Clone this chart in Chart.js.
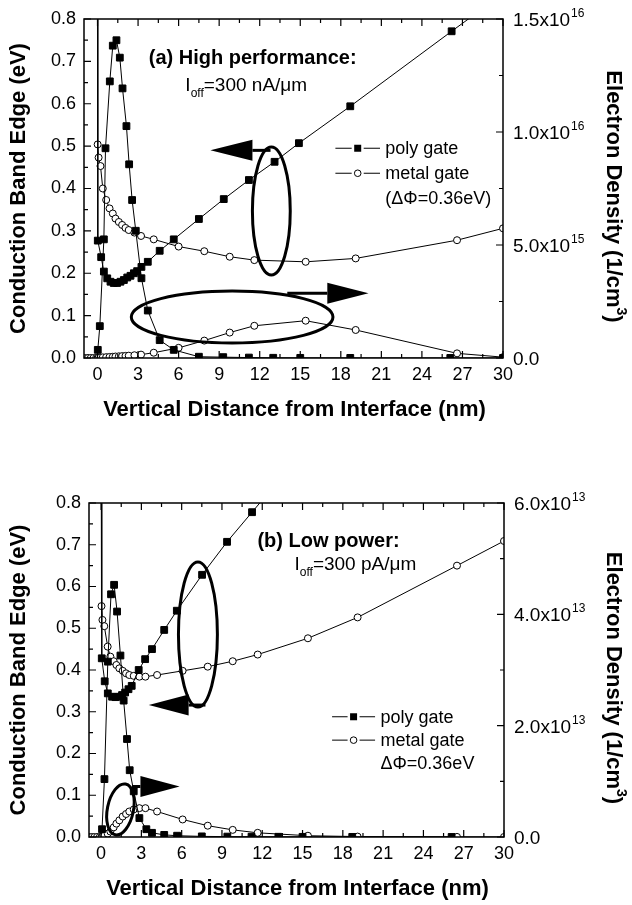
<!DOCTYPE html>
<html>
<head>
<meta charset="utf-8">
<script src="https://cdn.jsdelivr.net/npm/chart.js@4.4.1/dist/chart.umd.min.js"></script>
<style>
  html, body { margin: 0; padding: 0; background: #fff; }
  canvas { display: block; position: absolute; left: 0; }
  #chartA { top: 0; }
  #chartB { top: 452px; }
</style>
</head>
<body>
<canvas id="chartA" width="632" height="452"></canvas>
<canvas id="chartB" width="632" height="453"></canvas>
<script>
var FONT = '"Liberation Sans", Arial, sans-serif';

// tick values
var xTickVals = [0, 3, 6, 9, 12, 15, 18, 21, 24, 27, 30];
var cbTickVals = [0, 0.1, 0.2, 0.3, 0.4, 0.5, 0.6, 0.7, 0.8];
var densTicksA = [0, 5e15, 1e16, 1.5e16];
var densTicksB = [0, 2e13, 4e13, 6e13];

// (a) high performance - poly gate
var aPolyCbX = [0, 0.02, 0.27, 0.47, 0.72, 0.96, 1.2, 1.45, 1.7, 1.95, 2.2, 2.44, 2.69, 2.93, 3.25, 3.72, 4.6, 5.64, 7.5, 9.34, 11.2, 13.1, 14.9, 18.7, 26.2, 30];
var aPolyCb = [3.0, 0.277, 0.238, 0.204, 0.188, 0.180, 0.177, 0.177, 0.180, 0.184, 0.190, 0.194, 0.200, 0.205, 0.215, 0.227, 0.253, 0.280, 0.328, 0.375, 0.420, 0.463, 0.507, 0.594, 0.771, 0.860];
var aPolyDensX = [0.02, 0.17, 0.47, 0.59, 0.91, 1.13, 1.40, 1.65, 1.85, 2.14, 2.34, 2.56, 2.83, 3.25, 3.72, 4.6, 5.64, 7.5, 9.3, 11.2, 13.0, 15.0, 18.7, 26.1, 30];
var aPolyDens = [3.6e14, 1.41e15, 5.25e15, 9.28e15, 1.224e16, 1.382e16, 1.406e16, 1.329e16, 1.193e16, 1.026e16, 8.57e15, 6.99e15, 5.63e15, 3.53e15, 2.10e15, 7.9e14, 3.6e14, 5.6e13, 3.8e13, 1.9e13, 9e12, 6e12, 4e12, 2e12, 0];
// (a) metal gate
var aMetalX = [-0.9, -0.7, -0.5, -0.3, -0.1, 0.01, 0.08, 0.22, 0.39, 0.64, 0.89, 1.13, 1.33, 1.58, 1.82, 2.07, 2.31, 2.73, 3.22, 4.16, 6.0, 7.9, 9.78, 11.6, 15.4, 19.1, 26.6, 30];
var aMetalCb = [3.1, 3.1, 3.1, 3.1, 3.1, 0.504, 0.473, 0.453, 0.400, 0.373, 0.353, 0.341, 0.329, 0.321, 0.314, 0.307, 0.302, 0.296, 0.288, 0.280, 0.263, 0.252, 0.239, 0.231, 0.227, 0.235, 0.278, 0.306];
var aMetalDens = [0, 0, 0, 0, 0, 9e12, 1.9e13, 2.3e13, 2.8e13, 3.8e13, 4.7e13, 5.6e13, 6.6e13, 7.5e13, 8.4e13, 9.4e13, 1.03e14, 1.22e14, 1.5e14, 2.34e14, 4.5e14, 7.7e14, 1.125e15, 1.425e15, 1.65e15, 1.24e15, 2.06e14, 3.8e13];

// (b) low power - poly gate
var bPolyCbX = [0, 0.05, 0.27, 0.5, 0.82, 1.07, 1.32, 1.56, 1.79, 2.04, 2.28, 2.8, 3.28, 3.79, 4.7, 5.64, 7.52, 9.38, 11.24, 13.1];
var bPolyCb = [3.0, 0.428, 0.373, 0.344, 0.336, 0.335, 0.336, 0.340, 0.346, 0.354, 0.362, 0.400, 0.426, 0.450, 0.496, 0.542, 0.628, 0.707, 0.778, 0.849];
var bPolyDensX = [0.07, 0.25, 0.5, 0.74, 0.97, 1.19, 1.44, 1.68, 1.93, 2.13, 2.43, 2.85, 3.37, 3.79, 4.7, 5.66, 7.5, 9.4, 11.2, 13.2, 15.0, 18.7, 26.1];
var bPolyDens = [1.4e12, 1.04e13, 3.15e13, 4.36e13, 4.53e13, 4.05e13, 3.26e13, 2.45e13, 1.76e13, 1.2e13, 8.2e12, 3.4e12, 1.4e12, 7.5e11, 3.8e11, 2.3e11, 1.1e11, 7e10, 5e10, 4e10, 3e10, 2e10, 1e10];
// (b) metal gate
var bMetalX = [-0.9, -0.7, -0.5, -0.3, -0.1, 0.03, 0.1, 0.24, 0.49, 0.69, 0.94, 1.14, 1.36, 1.61, 1.86, 2.1, 2.43, 2.85, 3.3, 4.17, 6.07, 7.94, 9.8, 11.66, 15.4, 19.1, 26.5, 30];
var bMetalCb = [3.1, 3.1, 3.1, 3.1, 3.1, 0.553, 0.520, 0.505, 0.456, 0.432, 0.421, 0.412, 0.404, 0.398, 0.392, 0.388, 0.386, 0.384, 0.384, 0.388, 0.398, 0.408, 0.421, 0.437, 0.476, 0.526, 0.650, 0.709];
var bMetalDens = [0, 0, 0, 0, 0, 3.8e10, 7.5e10, 2.3e11, 6e11, 9.8e11, 1.73e12, 2.4e12, 3e12, 3.68e12, 4.13e12, 4.58e12, 4.95e12, 5.18e12, 5.18e12, 4.58e12, 3.15e12, 2.03e12, 1.28e12, 7.5e11, 2.3e11, 7.5e10, 1.5e10, 7.5e9];

// annotations, in data units of the x axis and the left axis
var annA = {
  densTicks: densTicksA,
  title: '(a) High performance:', titleAt: [3.79, 0.693],
  ioff: '=300 nA/\u03bcm', ioffAt: [6.5, 0.63],
  legendX: [17.6, 20.9, 21.29],
  legend: [{ y: 0.495, text: 'poly gate', marker: 'rect' },
           { y: 0.436, text: 'metal gate', marker: 'circle' },
           { y: 0.377, text: '(\u0394\u03a6=0.36eV)' }],
  ellipses: [{ x: 12.86, y: 0.347, rx: 1.4, ry: 0.151, rot: 0 },
             { x: 9.96, y: 0.0967, rx: 7.46, ry: 0.0613, rot: 0 }],
  arrows: [{ tip: 8.35, base: 11.46, end: 12.8, y: 0.49 },
           { tip: 20.05, base: 17.0, end: 14.04, y: 0.1526 }]
};
var annB = {
  densTicks: densTicksB,
  title: '(b) Low power:', titleAt: [11.64, 0.6946],
  ioff: '=300 pA/\u03bcm', ioffAt: [14.4, 0.6395],
  legendX: [17.2, 20.4, 20.8],
  legend: [{ y: 0.288, text: 'poly gate', marker: 'rect' },
           { y: 0.232, text: 'metal gate', marker: 'circle' },
           { y: 0.1765, text: '\u0394\u03a6=0.36eV' }],
  ellipses: [{ x: 7.21, y: 0.485, rx: 1.45, ry: 0.1737, rot: 0 },
             { x: 1.44, y: 0.066, rx: 0.97, ry: 0.062, rot: 0.2 }],
  arrows: [{ tip: 3.55, base: 6.52, end: 7.77, y: 0.316 },
           { tip: 5.85, base: 2.93, end: 2.3, y: 0.121 }]
};

function pts(xs, ys) {
  return xs.map(function (x, i) { return { x: x, y: ys[i] }; });
}

function series(label, xs, ys, axis, filled) {
  return {
    label: label,
    data: pts(xs, ys),
    yAxisID: axis,
    showLine: true,
    borderColor: '#000',
    borderWidth: 1,
    tension: 0,
    pointStyle: filled ? 'rect' : 'circle',
    pointRadius: filled ? 4.8 : 3.5,
    pointBackgroundColor: filled ? '#000' : '#fff',
    pointBorderColor: '#000',
    pointBorderWidth: 1
  };
}

function minorSet(vals) {
  var out = [];
  vals.forEach(function (v, i) {
    out.push([v, 7]);
    if (i < vals.length - 1) out.push([(v + vals[i + 1]) / 2, 4]);
  });
  return out;
}

function rich(ctx, x, y, parts) {
  parts.forEach(function (p) {
    ctx.font = p.font;
    ctx.fillText(p.text, x, y + (p.dy || 0));
    x += ctx.measureText(p.text).width;
  });
}

function deco(ann) {
  return {
    id: 'deco',
    afterDraw: function (chart) {
      var ctx = chart.ctx, a = chart.chartArea;
      var sx = chart.scales.x, sy = chart.scales.y, sd = chart.scales.y2;
      function X(v) { return sx.getPixelForValue(v); }
      function Y(v) { return sy.getPixelForValue(v); }
      ctx.save();
      ctx.strokeStyle = '#000';
      ctx.fillStyle = '#000';

      // frame and inward ticks
      ctx.lineWidth = 1.5;
      ctx.strokeRect(a.left, a.top, a.right - a.left, a.bottom - a.top);
      ctx.lineWidth = 1.2;
      ctx.beginPath();
      minorSet(xTickVals).forEach(function (t) {
        var p = X(t[0]);
        ctx.moveTo(p, a.bottom); ctx.lineTo(p, a.bottom - t[1]);
        ctx.moveTo(p, a.top); ctx.lineTo(p, a.top + t[1]);
      });
      minorSet(cbTickVals).forEach(function (t) {
        var p = Y(t[0]);
        ctx.moveTo(a.left, p); ctx.lineTo(a.left + t[1], p);
      });
      minorSet(ann.densTicks).forEach(function (t) {
        var p = sd.getPixelForValue(t[0]);
        ctx.moveTo(a.right, p); ctx.lineTo(a.right - t[1], p);
      });
      ctx.stroke();

      // right axis labels with superscript exponents
      ctx.textAlign = 'left';
      ctx.textBaseline = 'alphabetic';
      ann.densTicks.forEach(function (v) {
        var p = sd.getPixelForValue(v), x = a.right + 10, txt = '0.0', sup = '';
        if (v > 0) {
          var e = Math.floor(Math.log10(v) + 1e-9);
          txt = (v / Math.pow(10, e)).toFixed(1) + 'x10';
          sup = String(e);
        }
        ctx.font = '19px ' + FONT;
        ctx.fillText(txt, x, p + 7);
        if (sup) {
          var w = ctx.measureText(txt).width;
          ctx.font = '12px ' + FONT;
          ctx.fillText(sup, x + w + 1, p - 2);
        }
      });

      // axis titles
      var midY = (a.top + a.bottom) / 2;
      ctx.font = 'bold 22px ' + FONT;
      ctx.textAlign = 'center';
      ctx.textBaseline = 'middle';
      ctx.fillText('Vertical Distance from Interface (nm)', (a.left + a.right) / 2 + 1, a.bottom + 52);
      ctx.save();
      ctx.translate(19, midY);
      ctx.rotate(-Math.PI / 2);
      ctx.fillText('Conduction Band Edge (eV)', 0, 0);
      ctx.restore();
      ctx.save();
      ctx.translate(613, midY + 8);
      ctx.rotate(Math.PI / 2);
      ctx.textAlign = 'left';
      var t1 = 'Electron Density (1/cm', t2 = ')';
      var w1 = ctx.measureText(t1).width, w2 = ctx.measureText(t2).width;
      ctx.font = 'bold 14px ' + FONT;
      var w3 = ctx.measureText('3').width;
      var x0 = -(w1 + w2 + w3) / 2;
      ctx.font = 'bold 22px ' + FONT;
      ctx.fillText(t1, x0, 0);
      ctx.fillText(t2, x0 + w1 + w3, 0);
      ctx.font = 'bold 14px ' + FONT;
      ctx.fillText('3', x0 + w1, -8);
      ctx.restore();

      // panel captions
      ctx.textAlign = 'left';
      ctx.textBaseline = 'alphabetic';
      ctx.font = 'bold 20px ' + FONT;
      ctx.fillText(ann.title, X(ann.titleAt[0]), Y(ann.titleAt[1]));
      rich(ctx, X(ann.ioffAt[0]), Y(ann.ioffAt[1]), [
        { text: 'I', font: '19px ' + FONT },
        { text: 'off', font: '12px ' + FONT, dy: 6 },
        { text: ann.ioff, font: '19px ' + FONT }
      ]);

      // legend
      var lx0 = X(ann.legendX[0]), lx1 = X(ann.legendX[1]), lxt = X(ann.legendX[2]);
      var lxm = (lx0 + lx1) / 2;
      ann.legend.forEach(function (row) {
        var y = Y(row.y);
        if (row.marker) {
          ctx.lineWidth = 1;
          ctx.beginPath();
          ctx.moveTo(lx0, y); ctx.lineTo(lxm - 6, y);
          ctx.moveTo(lxm + 6, y); ctx.lineTo(lx1, y);
          ctx.stroke();
          if (row.marker === 'rect') {
            ctx.fillRect(lxm - 3.5, y - 3.5, 7, 7);
          } else {
            ctx.beginPath();
            ctx.arc(lxm, y, 3.3, 0, Math.PI * 2);
            ctx.fillStyle = '#fff'; ctx.fill();
            ctx.stroke();
            ctx.fillStyle = '#000';
          }
        }
        ctx.font = '18px ' + FONT;
        ctx.textBaseline = 'middle';
        ctx.fillText(row.text, lxt, y + 1);
      });

      // ellipses
      ctx.lineWidth = 3;
      ann.ellipses.forEach(function (e) {
        var cx = X(e.x), cy = Y(e.y);
        var rx = Math.abs(X(e.x + e.rx) - cx), ry = Math.abs(Y(e.y + e.ry) - cy);
        ctx.beginPath();
        ctx.ellipse(cx, cy, rx, ry, e.rot, 0, Math.PI * 2);
        ctx.stroke();
      });

      // arrows
      ann.arrows.forEach(function (ar) {
        var y = Y(ar.y), tip = X(ar.tip), base = X(ar.base), end = X(ar.end);
        ctx.lineWidth = 3;
        ctx.beginPath();
        ctx.moveTo(base, y); ctx.lineTo(end, y);
        ctx.stroke();
        ctx.beginPath();
        ctx.moveTo(tip, y);
        ctx.lineTo(base, y - 10.5);
        ctx.lineTo(base, y + 10.5);
        ctx.closePath();
        ctx.fill();
      });
      ctx.restore();
    }
  };
}

function makeChart(id, xMin, padTop, leftW, rightW, bottomH, densMax, datasets, ann) {
  return new Chart(document.getElementById(id), {
    type: 'scatter',
    data: { datasets: datasets },
    options: {
      responsive: false,
      animation: false,
      events: [],
      layout: { padding: { top: padTop, left: 0, right: 0, bottom: 0 } },
      plugins: { legend: { display: false }, tooltip: { enabled: false } },
      scales: {
        x: {
          type: 'linear', min: xMin, max: 30,
          grid: { display: false, drawTicks: false }, border: { display: false },
          afterBuildTicks: function (s) { s.ticks = xTickVals.map(function (v) { return { value: v }; }); },
          afterFit: function (s) { s.height = bottomH; },
          ticks: { padding: 6, color: '#000', font: { family: FONT, size: 18 }, maxRotation: 0, autoSkip: false,
                   callback: function (v) { return String(v); } }
        },
        y: {
          position: 'left', min: 0, max: 0.8,
          grid: { display: false, drawTicks: false }, border: { display: false },
          afterBuildTicks: function (s) { s.ticks = cbTickVals.map(function (v) { return { value: v }; }); },
          afterFit: function (s) { s.width = leftW; },
          ticks: { padding: 8, color: '#000', font: { family: FONT, size: 18 },
                   callback: function (v) { return v.toFixed(1); } }
        },
        y2: {
          position: 'right', min: 0, max: densMax,
          grid: { display: false, drawTicks: false }, border: { display: false },
          afterFit: function (s) { s.width = rightW; },
          ticks: { display: false }
        }
      }
    },
    plugins: [deco(ann)]
  });
}

makeChart('chartA', -1, 19, 84, 129, 94, 1.5e16, [
  series('poly gate CB', aPolyCbX, aPolyCb, 'y', true),
  series('poly gate density', aPolyDensX, aPolyDens, 'y2', true),
  series('metal gate CB', aMetalX, aMetalCb, 'y', false),
  series('metal gate density', aMetalX, aMetalDens, 'y2', false)
], annA);

makeChart('chartB', -0.9, 51, 89, 128, 68, 6e13, [
  series('poly gate CB', bPolyCbX, bPolyCb, 'y', true),
  series('poly gate density', bPolyDensX, bPolyDens, 'y2', true),
  series('metal gate CB', bMetalX, bMetalCb, 'y', false),
  series('metal gate density', bMetalX, bMetalDens, 'y2', false)
], annB);
</script>
</body>
</html>
